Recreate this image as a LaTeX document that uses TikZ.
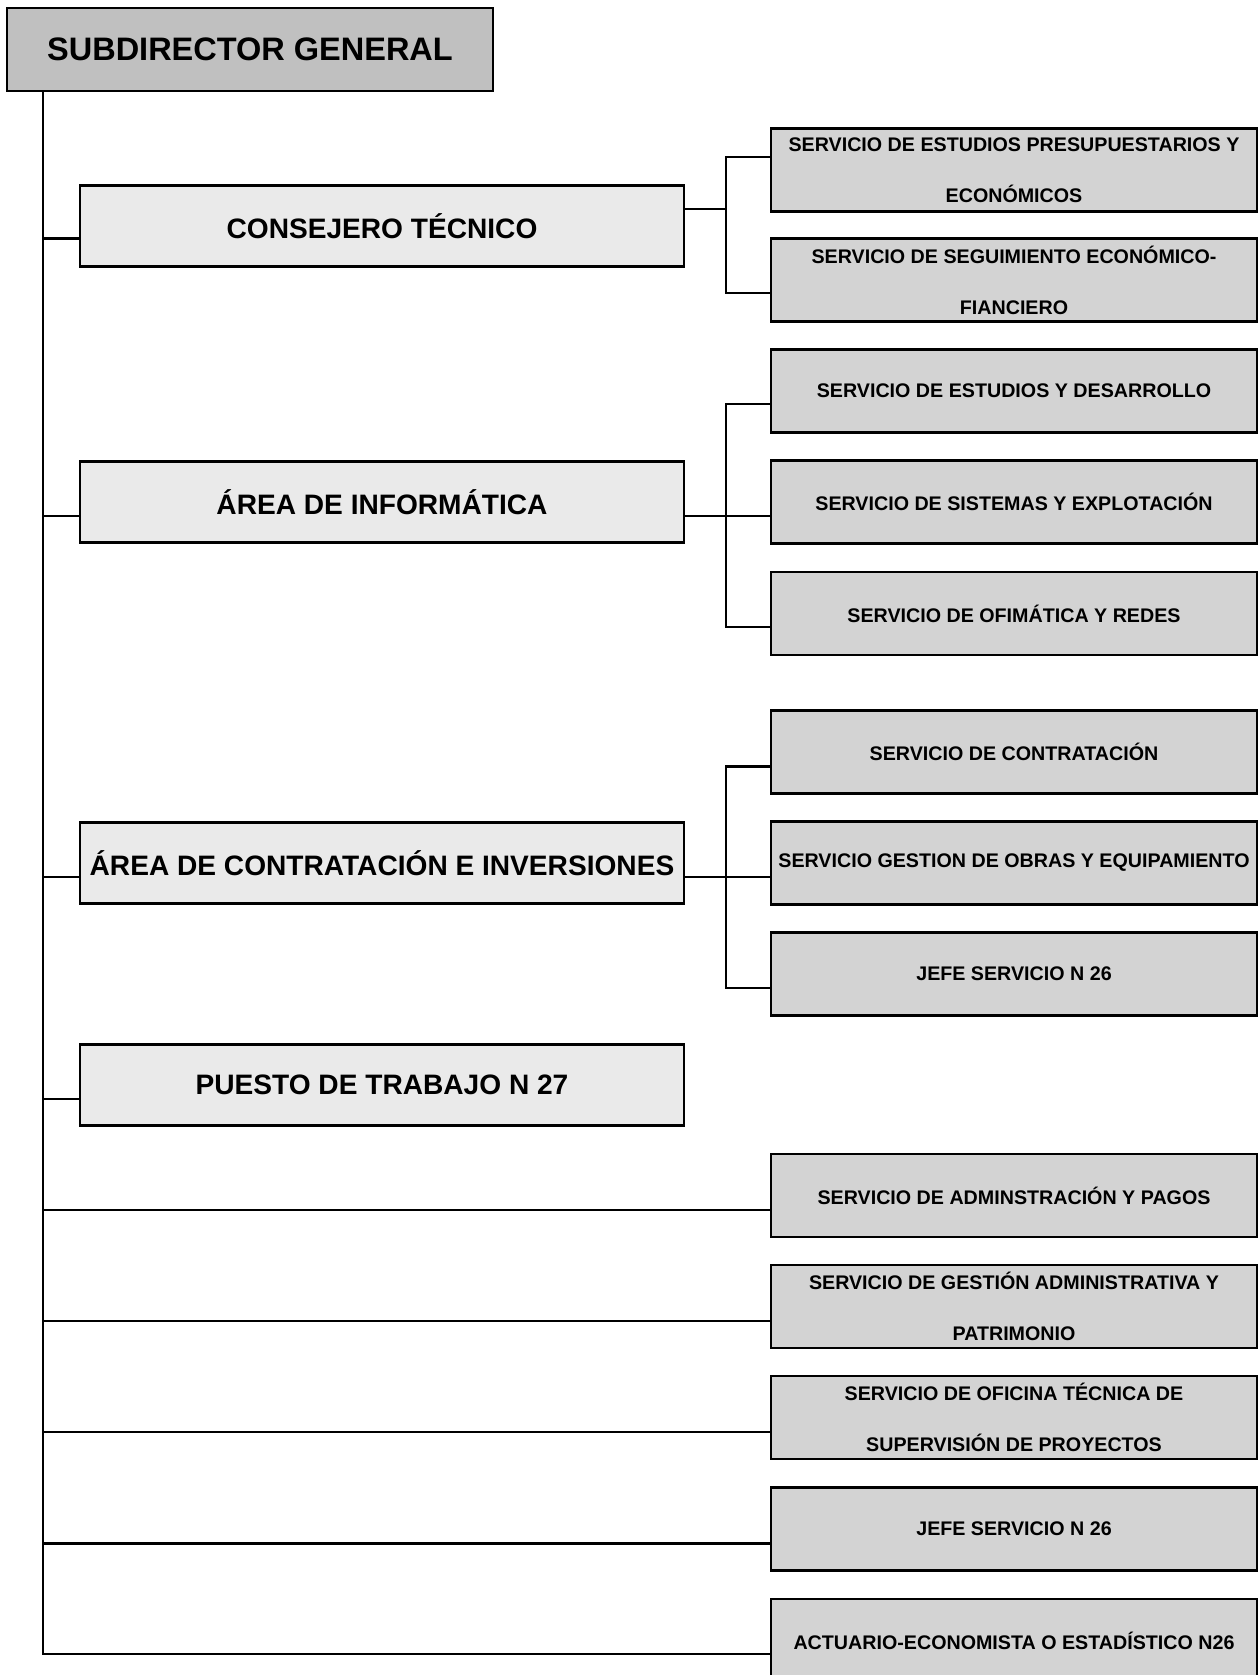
\documentclass[tikz,border=0pt]{standalone}
\usepackage{fontspec}
\setmainfont{Liberation Sans}
\usetikzlibrary{calc}
\definecolor{grisjefe}{HTML}{C0C0C0}
\definecolor{grisarea}{HTML}{EAEAEA}
\definecolor{grisserv}{HTML}{D3D3D3}

\begin{document}
\begin{tikzpicture}[x=0.02cm, y=-0.02cm, line width=1.2pt,
	jefe/.style={draw, fill=grisjefe, minimum width=9.72cm, minimum height=1.66cm, inner sep=0pt, font=\fontsize{18.5}{22}\selectfont\bfseries},
	area/.style={draw, fill=grisarea, minimum width=12.08cm, minimum height=1.62cm, inner sep=0pt, font=\fontsize{16}{19}\selectfont\bfseries},
	serv/.style={draw, fill=grisserv, minimum width=9.72cm, minimum height=1.66cm, inner sep=0pt, align=center, font=\fontsize{11.2}{29}\selectfont\bfseries}]

	\useasboundingbox (0,0) rectangle (1258,1675);

	% jefe y areas
	\node[jefe] (sub) at (250,49.5) {SUBDIRECTOR GENERAL};
	\node[area] (cons) at (382,226) {CONSEJERO TÉCNICO};
	\node[area] (info) at (382,502) {ÁREA DE INFORMÁTICA};
	\node[area] (contr) at (382,863) {ÁREA DE CONTRATACIÓN E INVERSIONES};
	\node[area] (puesto) at (382,1085) {PUESTO DE TRABAJO N 27};

	% servicios
	\node[serv] (s1) at (1014,170) {SERVICIO DE ESTUDIOS PRESUPUESTARIOS Y\\ECONÓMICOS};
	\node[serv] (s2) at (1014,280) {SERVICIO DE SEGUIMIENTO ECONÓMICO-\\FIANCIERO};
	\node[serv] (s3) at (1014,391) {SERVICIO DE ESTUDIOS Y DESARROLLO};
	\node[serv] (s4) at (1014,502) {SERVICIO DE SISTEMAS Y EXPLOTACIÓN};
	\node[serv] (s5) at (1014,613.5) {SERVICIO DE OFIMÁTICA Y REDES};
	\node[serv] (s6) at (1014,752) {SERVICIO DE CONTRATACIÓN};
	\node[serv] (s7) at (1014,863) {SERVICIO GESTION DE OBRAS Y EQUIPAMIENTO};
	\node[serv] (s8) at (1014,974) {JEFE SERVICIO N 26};
	\node[serv] (s9) at (1014,1195.5) {SERVICIO DE ADMINSTRACIÓN Y PAGOS};
	\node[serv] (s10) at (1014,1306.5) {SERVICIO DE GESTIÓN ADMINISTRATIVA Y\\PATRIMONIO};
	\node[serv] (s11) at (1014,1417.5) {SERVICIO DE OFICINA TÉCNICA DE\\SUPERVISIÓN DE PROYECTOS};
	\node[serv] (s12) at (1014,1529) {JEFE SERVICIO N 26};
	\node[serv] (s13) at (1014,1640.5) {ACTUARIO-ECONOMISTA O ESTADÍSTICO N26};

	% puntos de enlace
	\coordinate (tronco) at ($(sub.south west)+(37,0)$);
	\coordinate (rama) at ($(cons.east)+(41,0)$);
	\coordinate (e-cons) at ($(cons.north west)!.65!(cons.south west)$);
	\coordinate (e-info) at ($(info.north west)!.67!(info.south west)$);
	\coordinate (e-contr) at ($(contr.north west)!.67!(contr.south west)$);
	\coordinate (e-puesto) at ($(puesto.north west)!.67!(puesto.south west)$);
	\coordinate (d-cons) at ($(cons.north east)!.3!(cons.south east)$);
	\coordinate (d-info) at ($(info.north east)!.67!(info.south east)$);
	\coordinate (d-contr) at ($(contr.north east)!.67!(contr.south east)$);
	\coordinate (w1) at ($(s1.north west)!.35!(s1.south west)$);
	\coordinate (w2) at ($(s2.north west)!.655!(s2.south west)$);
	\coordinate (w3) at ($(s3.north west)!.65!(s3.south west)$);
	\coordinate (w5) at ($(s5.north west)!.66!(s5.south west)$);
	\coordinate (w6) at ($(s6.north west)!.67!(s6.south west)$);
	\coordinate (w8) at ($(s8.north west)!.66!(s8.south west)$);
	\coordinate (w9) at ($(s9.north west)!.67!(s9.south west)$);
	\coordinate (w10) at ($(s10.north west)!.67!(s10.south west)$);
	\coordinate (w11) at ($(s11.north west)!.67!(s11.south west)$);
	\coordinate (w12) at ($(s12.north west)!.67!(s12.south west)$);
	\coordinate (w13) at ($(s13.north west)!.66!(s13.south west)$);

	% tronco principal
	\draw (tronco) |- (w13);
	\draw (e-cons) -- (e-cons -| tronco);
	\draw (e-info) -- (e-info -| tronco);
	\draw (e-contr) -- (e-contr -| tronco);
	\draw (e-puesto) -- (e-puesto -| tronco);
	\draw (w9) -- (w9 -| tronco);
	\draw (w10) -- (w10 -| tronco);
	\draw (w11) -- (w11 -| tronco);
	\draw (w12) -- (w12 -| tronco);

	% ramas de las areas
	\draw (d-cons) -- (d-cons -| rama);
	\draw (w1) -| (rama |- w2) -- (w2);
	\draw (d-info) -- (d-info -| s4.west);
	\draw (w3) -| (rama |- w5) -- (w5);
	\draw (d-contr) -- (d-contr -| s7.west);
	\draw (w6) -| (rama |- w8) -- (w8);

\end{tikzpicture}
\end{document}
